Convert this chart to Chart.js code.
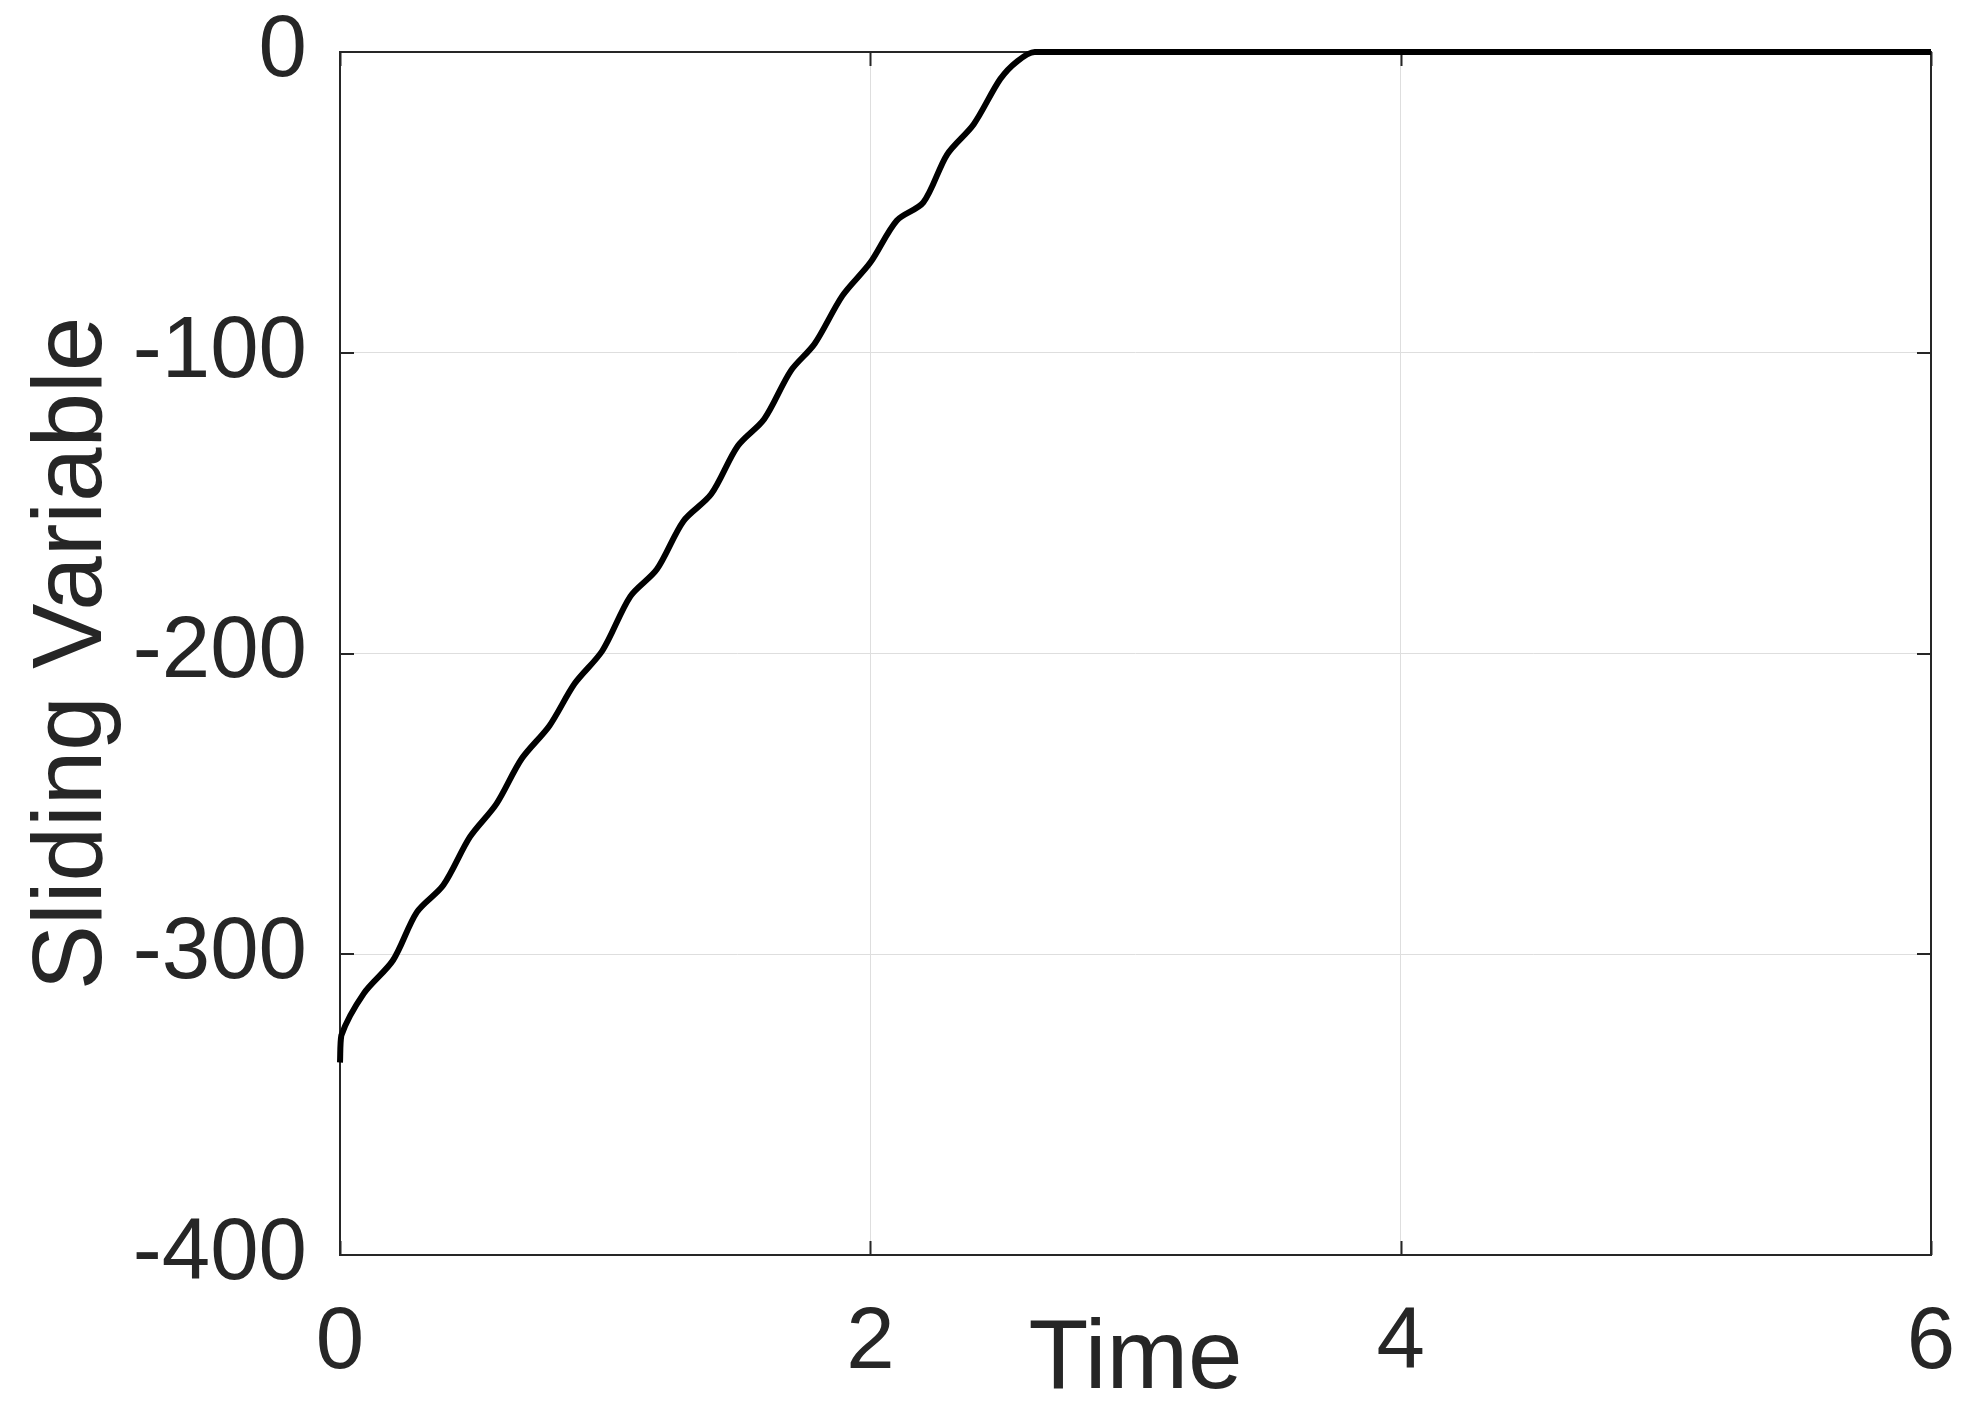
<!DOCTYPE html>
<html>
<head>
<meta charset="utf-8">
<script src="https://cdn.jsdelivr.net/npm/chart.js@4"></script>
<style>
  html, body { margin: 0; padding: 0; background: #fff; }
  #wrap { width: 1981px; height: 1419px; }
</style>
</head>
<body>
<div id="wrap"><canvas id="slidingChart" width="1981" height="1419"></canvas></div>
<script>
// values
const timeValues = [0, 0.005, 0.09, 0.2, 0.29, 0.39, 0.49, 0.59, 0.685, 0.79, 0.885, 0.99,
  1.095, 1.195, 1.295, 1.4, 1.5, 1.6, 1.7, 1.79, 1.895, 2.0, 2.1, 2.2, 2.29, 2.39, 2.49,
  2.555, 2.62, 6];
const slidingValues = [-336, -327, -313, -302, -286, -277, -261, -250, -235, -224, -210, -199,
  -181, -172, -156, -147, -131, -122, -106, -97, -81, -70, -56, -50, -34, -24, -9,
  -3, 0, 0];
const xTicks = [0, 2, 4, 6];
const yTicks = [-400, -300, -200, -100, 0];

const axisColor = "#262626";
const fontFamily = "'Liberation Sans', Arial, Helvetica, sans-serif";

// MATLAB style box with inward ticks on all four sides
const boxPlugin = {
  id: "boxPlugin",
  beforeDatasetsDraw(chart) {
    const { ctx, chartArea: a, scales } = chart;
    const len = 14;
    ctx.save();
    ctx.strokeStyle = axisColor;
    ctx.lineWidth = 2;
    ctx.beginPath();
    scales.x.ticks.forEach((t) => {
      const px = Math.round(scales.x.getPixelForValue(t.value)) + 0.5;
      ctx.moveTo(px, a.bottom);
      ctx.lineTo(px, a.bottom - len);
      ctx.moveTo(px, a.top);
      ctx.lineTo(px, a.top + len);
    });
    scales.y.ticks.forEach((t) => {
      const py = Math.round(scales.y.getPixelForValue(t.value));
      ctx.moveTo(a.left, py);
      ctx.lineTo(a.left + len, py);
      ctx.moveTo(a.right, py);
      ctx.lineTo(a.right - len, py);
    });
    ctx.stroke();
    ctx.strokeRect(a.left, a.top, a.right - a.left, a.bottom - a.top);
    ctx.restore();
  },
};

// keep the plot box where the reference has it
const noEdgePadding = (scale) => {
  scale.paddingTop = 0;
  scale.paddingBottom = 0;
  scale.paddingLeft = 0;
  scale.paddingRight = 0;
};

const points = timeValues.map((t, i) => ({ x: t, y: slidingValues[i] }));

new Chart(document.getElementById("slidingChart"), {
  type: "line",
  data: {
    datasets: [
      {
        label: "Sliding Variable",
        data: points,
        borderColor: "#000000",
        borderWidth: 6,
        pointRadius: 0,
        tension: 0.3,
        fill: false,
        clip: 6,
      },
    ],
  },
  options: {
    responsive: false,
    animation: false,
    devicePixelRatio: 1,
    layout: { padding: { top: 52, right: 50, bottom: 0, left: 0 } },
    plugins: {
      legend: { display: false },
      tooltip: { enabled: false },
    },
    scales: {
      x: {
        type: "linear",
        min: 0,
        max: 6,
        afterBuildTicks: (scale) => {
          scale.ticks = xTicks.map((v) => ({ value: v }));
        },
        afterFit: (scale) => {
          scale.height = 164;
          noEdgePadding(scale);
        },
        grid: { color: "#dedede", lineWidth: 1, drawTicks: false },
        border: { display: false },
        ticks: {
          padding: 37,
          color: axisColor,
          maxRotation: 0,
          font: { family: fontFamily, size: 87 },
        },
        title: {
          display: true,
          text: "Time",
          color: axisColor,
          padding: { top: 0, bottom: -1 },
          font: { family: fontFamily, size: 98 },
        },
      },
      y: {
        type: "linear",
        min: -400,
        max: 0,
        afterBuildTicks: (scale) => {
          scale.ticks = yTicks.map((v) => ({ value: v }));
        },
        afterFit: (scale) => {
          scale.width = 340;
          noEdgePadding(scale);
        },
        grid: { color: "#dedede", lineWidth: 1, drawTicks: false },
        border: { display: false },
        ticks: {
          padding: 33,
          color: axisColor,
          font: { family: fontFamily, size: 87 },
        },
        title: {
          display: true,
          text: "Sliding Variable",
          color: axisColor,
          padding: { top: 15, bottom: 0 },
          font: { family: fontFamily, size: 98 },
        },
      },
    },
  },
  plugins: [boxPlugin],
});
</script>
</body>
</html>
